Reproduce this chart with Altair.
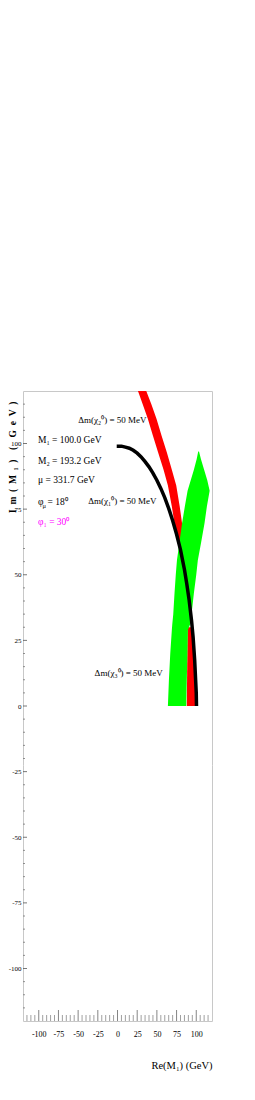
import altair as alt
import pandas as pd

# ---------------- data ----------------
AXIS_TICKS = [-100, -75, -50, -25, 0, 25, 50, 75, 100]
MINOR_TICKS = [-115, -110, -105, -95, -90, -85, -80, -70, -65, -60, -55, -45, -40,
               -35, -30, -20, -15, -10, -5, 5, 10, 15, 20, 30, 35, 40, 45, 55, 60,
               65, 70, 80, 85, 90, 95, 105, 110, 115]

# black contour: Δm(χ1) = 50 MeV
black_re = [-1, 5, 10, 15, 20, 25, 30, 35, 40, 45, 50, 55, 60, 65, 70, 75, 80, 85,
            88, 91, 94, 96, 98, 99.2, 100, 100.3]
black_im = [99, 99, 98.6, 98.2, 97.4, 96.3, 94.9, 93.1, 91.1, 88.7, 86, 82.9, 79.4,
            75.3, 70.7, 65.4, 59.5, 52, 46.5, 40.3, 32.6, 26.2, 17.5, 10, 5, 0]

# red band: Δm(χ2) = 50 MeV (two visible pieces)
red_lo_im = [0, 15, 30]
red_lo_left = [88, 88.5, 89]
red_lo_right = [100, 99, 95.5]
red_hi_im = [48, 59, 69.5, 76, 84, 90, 96.7, 103, 109.4, 115, 120]
red_hi_left = [84, 79.6, 72.4, 69, 64, 58.5, 51.5, 45, 38.5, 32, 26]
red_hi_right = [89, 85.5, 82, 79, 74.6, 69, 62.6, 56, 49.5, 43, 36.5]

# green band: Δm(χ3) = 50 MeV
green_im = [0, 10, 20, 29, 31, 35, 43, 50, 55.5, 62, 69.6, 76, 82, 86, 90, 94, 97]
green_left = [64, 65.3, 67, 69, 69.5, 70.8, 72.4, 74, 75.5, 78.5, 82, 85.5, 89, 93, 97, 100.5, 102.5]
green_right = [87.3, 88, 88.8, 89.4, 92, 94, 97, 100, 102, 106, 110.5, 113.5, 117, 114, 110, 106, 103.5]

param_text = ["M\u2081 = 100.0 GeV", "M\u2082 = 193.2 GeV", "\u03bc = 331.7 GeV"]
param_y = [101.5, 93.2, 86]
phi_mu_y = 77.6
phi_1_y = 70

dm_text = ["\u0394m(\u03c7\u2082\u2070) = 50 MeV", "\u0394m(\u03c7\u2081\u2070) = 50 MeV",
           "\u0394m(\u03c7\u2083\u2070) = 50 MeV"]
dm_x = [36.8, 49.6, 57.6]
dm_y = [109, 78, 12.5]

# ---------------- chart ----------------
W, H = 189, 630
FONT = "Liberation Serif"
SP = "\u2002"   # en space (does not collapse in SVG)
EM = "\u2003"   # em space
xs = alt.Scale(domain=[-120, 120], nice=False, zero=False)
ys = alt.Scale(domain=[-120, 120], nice=False, zero=False)

black_df = pd.DataFrame({"re": black_re, "im": black_im, "o": list(range(len(black_re)))})
red_df = pd.concat([
    pd.DataFrame({"im": red_lo_im, "l": red_lo_left, "r": red_lo_right, "part": "lo"}),
    pd.DataFrame({"im": red_hi_im, "l": red_hi_left, "r": red_hi_right, "part": "hi"}),
], ignore_index=True)
green_df = pd.DataFrame({"im": green_im, "l": green_left, "r": green_right})

y_title = ("I" + SP + "m" + SP + "(" + SP + "M" + SP + "\u2081" + SP + ")" + SP + SP
           + "(" + EM + "G" + SP + "e" + SP + "V" + SP + ")")

x_axis = alt.Axis(values=AXIS_TICKS, ticks=False, domain=False, grid=False,
                  labelFont=FONT, labelFontSize=8, labelPadding=9, labelColor="black",
                  labelExpr="replace(datum.label, '\u2212', '-')",
                  title="Re(M\u2081) (GeV)", titleFont=FONT, titleFontSize=10.5,
                  titleFontWeight="normal", titleAnchor="end", titleAlign="right",
                  titleBaseline="alphabetic", titleY=47, titleColor="black")
y_axis = alt.Axis(values=AXIS_TICKS, ticks=False, domain=False, grid=False,
                  labelFont=FONT, labelFontSize=7, labelPadding=2, labelColor="black",
                  labelExpr="replace(datum.label, '\u2212', '-')",
                  title=y_title, titleFont=FONT,
                  titleFontSize=9.5, titleFontWeight="bold", titleAnchor="end",
                  titleAngle=270, titleAlign="right", titleBaseline="bottom",
                  titleX=-6, titleY=10, titleColor="black")


def X(f):
    return alt.X(f, scale=xs, axis=x_axis, stack=None)


def Y(f):
    return alt.Y(f, scale=ys, axis=y_axis, stack=None)


red = alt.Chart(red_df).mark_area(color="#ff0000", orient="horizontal").encode(
    y=Y("im:Q"), x=X("l:Q"), x2=alt.X2("r"), detail="part:N",
)
green = alt.Chart(green_df).mark_area(color="#00ff00", orient="horizontal").encode(
    y=Y("im:Q"), x=X("l:Q"), x2=alt.X2("r"),
)
black = alt.Chart(black_df).mark_line(color="black", strokeWidth=3.5, strokeCap="butt").encode(
    x=X("re:Q"), y=Y("im:Q"), order="o:Q",
)

TXT = dict(font=FONT, fontSize=9.5, baseline="middle")

par_df = pd.DataFrame({"t": param_text, "x": -101, "y": param_y})
params = alt.Chart(par_df).mark_text(align="left", color="black", **TXT).encode(
    x=X("x:Q"), y=Y("y:Q"), text="t:N")

phi_df = pd.DataFrame({"t": ["\u03c6", "= 18\u2070"], "x": [-101, -89], "y": [phi_mu_y, phi_mu_y]})
phi = alt.Chart(phi_df).mark_text(align="left", color="black", **TXT).encode(
    x=X("x:Q"), y=Y("y:Q"), text="t:N")
mu_df = pd.DataFrame({"t": ["\u03bc"], "x": [-95.3], "y": [phi_mu_y]})
mu = alt.Chart(mu_df).mark_text(font=FONT, fontSize=6.5, align="left", baseline="middle",
                                dy=3.5, color="black").encode(
    x=X("x:Q"), y=Y("y:Q"), text="t:N")
phi1_df = pd.DataFrame({"t": ["\u03c6\u2081 = 30\u2070"], "x": [-101], "y": [phi_1_y]})
phi1 = alt.Chart(phi1_df).mark_text(align="left", color="#ff00ff", **TXT).encode(
    x=X("x:Q"), y=Y("y:Q"), text="t:N")

dm_df = pd.DataFrame({"t": dm_text, "x": dm_x, "y": dm_y})
dm = alt.Chart(dm_df).mark_text(align="right", color="black", font=FONT, fontSize=9,
                                baseline="middle").encode(
    x=X("x:Q"), y=Y("y:Q"), text="t:N")

maj_df = pd.DataFrame({"v": AXIS_TICKS})
min_df = pd.DataFrame({"v": MINOR_TICKS})
xt_major = alt.Chart(maj_df).mark_rule(color="#666", strokeWidth=0.8).encode(
    x=X("v:Q"), y=alt.value(H), y2=alt.value(H - 11))
xt_minor = alt.Chart(min_df).mark_rule(color="#888", strokeWidth=0.8).encode(
    x=X("v:Q"), y=alt.value(H), y2=alt.value(H - 6))
yt_major = alt.Chart(maj_df).mark_rule(color="#555", strokeWidth=0.8).encode(
    y=Y("v:Q"), x=alt.value(0), x2=alt.value(4))
yt_minor = alt.Chart(min_df).mark_rule(color="#777", strokeWidth=0.8).encode(
    y=Y("v:Q"), x=alt.value(0), x2=alt.value(2))

chart = alt.layer(
    red, green, black, params, phi, mu, phi1, dm, xt_major, xt_minor, yt_major, yt_minor
).properties(
    width=W, height=H,
    autosize=alt.AutoSizeParams(type="none"),
    padding={"left": 15, "top": 383, "right": 30, "bottom": 70},
).configure_view(stroke="#c8c8c8", strokeWidth=1)

chart.save("out.html", embed_options={"renderer": "svg", "actions": False})
